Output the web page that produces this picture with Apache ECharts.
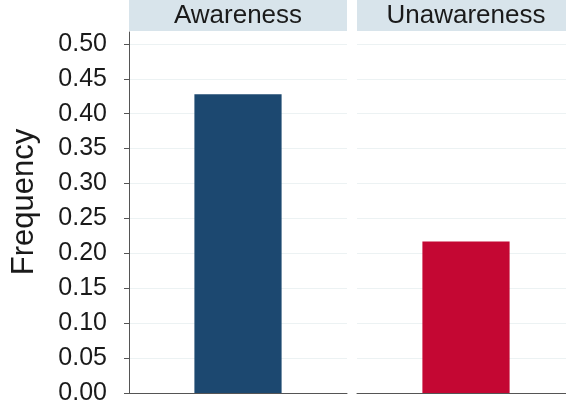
<!DOCTYPE html>
<html>
<head>
<meta charset="utf-8">
<script src="https://cdn.jsdelivr.net/npm/echarts@6/dist/echarts.min.js"></script>
<style>
html,body{margin:0;padding:0;background:#fff;}
#chart{width:566px;height:410px;}
</style>
</head>
<body>
<div id="chart"></div>
<script>
var panels = ['Awareness', 'Unawareness'];
var frequency = [0.428, 0.217];
var barColors = ['#1c4870', '#c40733'];
var yTicks = [0, 0.05, 0.10, 0.15, 0.20, 0.25, 0.30, 0.35, 0.40, 0.45, 0.50];
var yTitle = 'Frequency';

var chart = echarts.init(document.getElementById('chart'), null, {renderer: 'canvas'});
var font = 'Liberation Sans, Arial, sans-serif';
var yMax = 0.517;

var grids = [
  {left: 129, width: 218, top: 32, bottom: 17, outerBoundsMode: 'none', containLabel: false},
  {left: 357, width: 218, top: 32, bottom: 17, outerBoundsMode: 'none', containLabel: false}
];

var xAxes = panels.map(function (p, i) {
  return {
    type: 'category', gridIndex: i, data: [p],
    axisLine: {show: true, lineStyle: {color: '#555', width: 1}},
    axisTick: {show: false}, axisLabel: {show: false}, splitLine: {show: false}
  };
});

var yAxes = panels.map(function (p, i) {
  return {
    type: 'value', gridIndex: i, min: 0, max: yMax,
    axisLine: {show: i === 0, lineStyle: {color: '#555', width: 1}},
    axisTick: {show: i === 0, length: 5, lineStyle: {color: '#555'}, customValues: yTicks},
    axisLabel: {
      show: i === 0, customValues: yTicks, margin: 22,
      fontFamily: font, fontSize: 25, color: '#1a1a1a',
      formatter: function (v) { return v.toFixed(2); }
    },
    splitLine: {show: true, lineStyle: {color: '#ecf2f3', width: 1}}
  };
});

var series = panels.map(function (p, i) {
  return {
    type: 'bar', xAxisIndex: i, yAxisIndex: i,
    data: [frequency[i]], barWidth: '40%',
    itemStyle: {color: barColors[i]},
    silent: true
  };
});

var graphics = [];
var stripRight = [347, 566];
panels.forEach(function (p, i) {
  var x0 = grids[i].left;
  var w = stripRight[i] - x0;
  graphics.push({
    type: 'rect', x: x0, y: 0,
    shape: {width: w, height: 31},
    style: {fill: '#d8e4eb'}, silent: true
  });
  graphics.push({
    type: 'text', x: x0 + grids[i].width / 2, y: 16,
    style: {text: p, fontFamily: font, fontSize: 26, fill: '#1a1a1a', align: 'center', verticalAlign: 'middle'},
    silent: true
  });
});
graphics.push({
  type: 'text', x: 24, y: 202, rotation: Math.PI / 2,
  style: {text: yTitle, fontFamily: font, fontSize: 31, fill: '#1a1a1a', align: 'center', verticalAlign: 'middle'},
  silent: true
});

chart.setOption({
  animation: false,
  backgroundColor: '#fff',
  grid: grids,
  xAxis: xAxes,
  yAxis: yAxes,
  series: series,
  graphic: graphics
});
</script>
</body>
</html>
